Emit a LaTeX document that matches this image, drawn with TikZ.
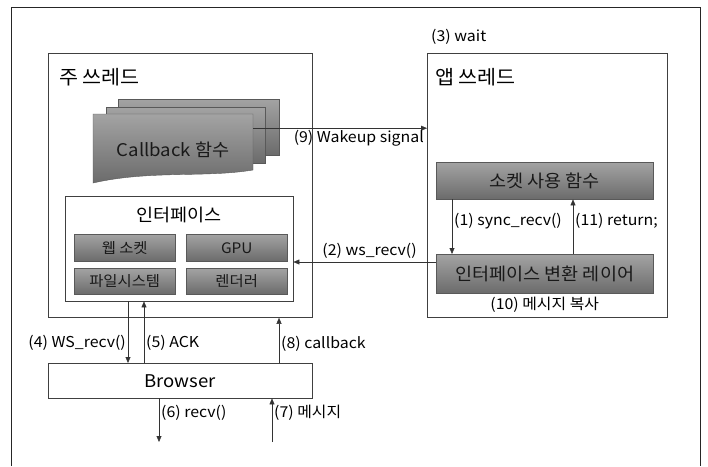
\documentclass[tikz,border=0pt]{standalone}
\usepackage{fontspec}
\setmainfont[FakeStretch=1.06]{Noto Sans CJK KR}
\usepackage{tikz}
\usetikzlibrary{arrows.meta, positioning}

\begin{document}
\begin{tikzpicture}[
  x=1pt, y=-1pt,
  >={Triangle[length=6pt, width=5pt]},
  thread/.style={draw, thick, black!75, anchor=north west, inner sep=0pt, text=black},
  fn/.style={draw, black!65, top color=black!36, bottom color=black!58, anchor=north west,
    inner sep=0pt, text=black!90, font=\fontsize{17.5}{20}\selectfont},
  sub/.style={fn, font=\fontsize{14.5}{17}\selectfont, minimum width=101pt},
  title/.style={anchor=west, inner sep=0pt, text=black, font=\fontsize{19.5}{22}\selectfont},
  lbl/.style={font=\fontsize{15}{17}\selectfont, text=black, inner sep=2pt},
  link/.style={->, black!80}
]
  \useasboundingbox (0,0) rectangle (708,466);
  % outer frame, open at the bottom
  \draw[thick, black!85] (11,466) |- (700,7) -- (700,466);

  % threads
  \node[thread, minimum width=264pt, minimum height=264pt] (main) at (48,53) {};
  \node[thread, minimum width=240pt, minimum height=264pt] (app) at (427,53) {};
  \node[title] at (59,77) {주 쓰레드};
  \node[title] at (435,77) {앱 쓰레드};
  \node[lbl, anchor=west] (wait) at (429,37) {(3) wait};

  % callback stack
  \draw[black!65, top color=black!36, bottom color=black!58] (118,99) rectangle (279,155);
  \draw[black!65, top color=black!36, bottom color=black!58] (106,107) rectangle (265,163);
  \draw[black!65, top color=black!36, bottom color=black!58]
    (93,114) -- (253,114) -- (253,170) .. controls (205,178) and (150,170) .. (93,183) -- cycle;
  \node[inner sep=0pt, minimum width=160pt, minimum height=72pt, anchor=north west,
    text=black!90, font=\fontsize{17.5}{20}\selectfont] (cb) at (93,114) {Callback 함수};

  % interface
  \node[thread, thin, minimum width=228pt, minimum height=105pt] (iface) at (65,196) {};
  \node[font=\fontsize{17.5}{20}\selectfont] at (179,215) {인터페이스};
  \node[sub, minimum height=27pt] (ws) at (74,234) {웹 소켓};
  \node[sub, minimum height=27pt] (gpu) at (186,234) {GPU};
  \node[sub, minimum height=26pt] (fs) at (74,268) {파일시스템};
  \node[sub, minimum height=26pt] (rend) at (186,268) {렌더러};

  % app side
  \node[fn, minimum width=217pt, minimum height=37pt] (sock) at (436,162) {소켓 사용 함수};
  \node[fn, minimum width=217pt, minimum height=39pt] (layer) at (436,254) {인터페이스 변환 레이어};
  \node[lbl, below=1pt of layer] (copy) {(10) 메시지 복사};

  % browser
  \node[thread, thin, minimum width=264pt, minimum height=35pt,
    font=\fontsize{17.5}{20}\selectfont] (browser) at (48,363) {Browser};
  \coordinate (out) at (159,442);
  \coordinate (in) at (272,442);

  % connectors
  \coordinate (wk) at ([yshift=22pt]cb.east);
  \draw[link] (wk) -- (wk -| app.west)
    node[lbl, pos=1, below left, xshift=-1pt] {(9) Wakeup signal};
  \draw[link] (sock.south -| 452,0) -- (layer.north -| 452,0)
    node[lbl, pos=0.4, right] {(1) sync\_recv()};
  \draw[link] (layer.north -| 573,0) -- (sock.south -| 573,0)
    node[lbl, pos=0.6, right] {(11) return;};
  \draw[link] (layer.west |- 0,262) -- (iface.east |- 0,262)
    node[lbl, pos=0.12, above left, yshift=1pt] {(2) ws\_recv()};
  \draw[link] (iface.south -| 128,0) -- (browser.north -| 128,0)
    node[lbl, pos=0.68, left] {(4) WS\_recv()};
  \draw[link] (browser.north -| 144,0) -- (iface.south -| 144,0)
    node[lbl, pos=0.32, right] {(5) ACK};
  \draw[link] (browser.north -| 279,0) -- (main.south -| 279,0)
    node[lbl, pos=0.43, right] {(8) callback};
  \draw[link] (browser.south -| out) -- (out)
    node[lbl, pos=0.34, right] {(6) recv()};
  \draw[link] (in) -- (browser.south -| in)
    node[lbl, pos=0.66, right] {(7) 메시지};
\end{tikzpicture}
\end{document}
